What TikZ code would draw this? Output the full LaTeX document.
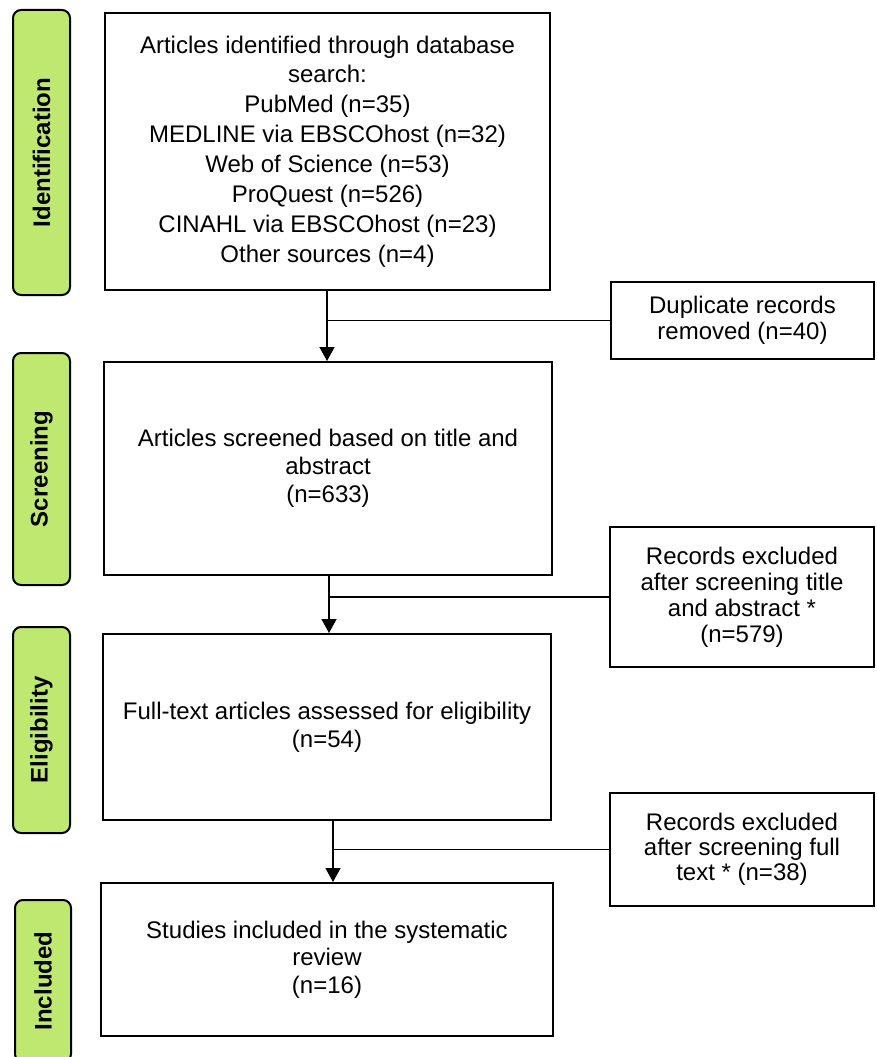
\documentclass[tikz,border=0pt]{standalone}
\usepackage{fontspec}
\setmainfont{Liberation Sans}
\usetikzlibrary{arrows.meta}
\definecolor{phasegreen}{RGB}{190,232,112}
\begin{document}
\begin{tikzpicture}[x=1pt,y=-1pt,
  box/.style={draw,line width=2pt,align=center,inner sep=0pt,font=\fontsize{24}{28}\selectfont},
  phase/.style={draw,line width=2pt,fill=phasegreen,rounded corners=8pt,rotate=90,inner sep=0pt,font=\bfseries\fontsize{24}{28}\selectfont},
  conn/.style={line width=1.3pt},
  arr/.style={conn,-{Triangle[width=15pt,length=14pt]}}]
\useasboundingbox (0,0) rectangle (876,1057);

% phase labels
\node[phase,minimum width=285pt,minimum height=57pt] (pid) at (41.5,152.5) {Identification};
\node[phase,minimum width=232pt,minimum height=57pt] (psc) at (41.5,469) {Screening};
\node[phase,minimum width=206pt,minimum height=57pt] (pel) at (41.5,730) {Eligibility};
\node[phase,minimum width=162pt,minimum height=56pt] (pin) at (43,981) {Included};

% main boxes
\node[box,minimum width=445pt,minimum height=277pt,font=\fontsize{24}{29.9}\selectfont] (ident) at (327.5,151.5)
  {Articles identified through database\\search:\\PubMed (n=35)\\MEDLINE via EBSCOhost (n=32)\\Web of Science (n=53)\\ProQuest (n=526)\\CINAHL via EBSCOhost (n=23)\\Other sources (n=4)};
\node[box,minimum width=448pt,minimum height=213pt] (screen) at (328,468.5)
  {Articles screened based on title and\\abstract\\(n=633)};
\node[box,minimum width=448pt,minimum height=186pt] (elig) at (327,727)
  {Full-text articles assessed for eligibility\\(n=54)};
\node[box,minimum width=452pt,minimum height=153pt,font=\fontsize{24}{27.5}\selectfont] (incl) at (327,959.5)
  {Studies included in the systematic\\review\\(n=16)};

% exclusion boxes
\node[box,minimum width=263pt,minimum height=77pt,font=\fontsize{24}{26}\selectfont] (dup) at (742.5,320.5)
  {Duplicate records\\removed (n=40)};
\node[box,minimum width=264pt,minimum height=140pt,font=\fontsize{24}{26}\selectfont] (ex1) at (742,597)
  {Records excluded\\after screening title\\and abstract *\\(n=579)};
\node[box,minimum width=264pt,minimum height=113pt,font=\fontsize{24}{25}\selectfont] (ex2) at (742,849.5)
  {Records excluded\\after screening full\\text * (n=38)};

% connectors
\coordinate (a1) at (327,0);
\coordinate (a2) at (329,0);
\coordinate (a3) at (333,0);
\draw[arr] (ident.south -| a1) -- (screen.north -| a1);
\draw[arr] (screen.south -| a2) -- (elig.north -| a2);
\draw[arr] (elig.south -| a3) -- (incl.north -| a3);
\draw[conn] (dup.west) -- (dup.west -| a1);
\draw[conn] (ex1.west) -- (ex1.west -| a2);
\draw[conn] (ex2.west) -- (ex2.west -| a3);
\end{tikzpicture}
\end{document}
